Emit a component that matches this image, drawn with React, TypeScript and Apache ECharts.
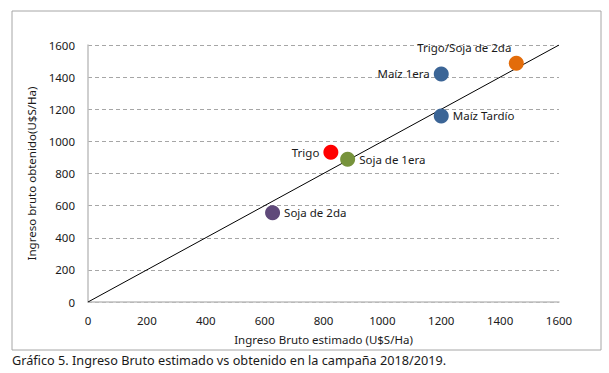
import React, { useEffect, useRef } from "react";
import * as echarts from "echarts";

const names = ["Trigo/Soja de 2da", "Maíz 1era", "Maíz Tardío", "Trigo", "Soja de 1era", "Soja de 2da"];
const estimated = [1455, 1200, 1200, 825, 882, 627];
const obtained = [1486, 1420, 1158, 932, 888, 556];
const pointColors = ["#E36C0A", "#3B6596", "#3B6596", "#FF0000", "#77933C", "#5F497A"];
const labelPositions = ["top", "left", "right", "left", "right", "right"];
const identityLine = [[0, 0], [1600, 1600]];

const FONT = "'Noto Sans', 'Open Sans', sans-serif";

export default function App() {
  const ref = useRef<HTMLDivElement>(null);
  useEffect(() => {
    document.body.style.margin = "0";
    const chart = echarts.init(ref.current!, null, { renderer: "svg" });
    const data = names.map((n, i) => ({
      name: n,
      value: [estimated[i], obtained[i]],
      itemStyle: { color: pointColors[i], opacity: 1 },
      label: {
        show: true,
        position: labelPositions[i] as any,
        formatter: n,
        color: "#1a1a1a",
        fontSize: 11.5,
        fontFamily: FONT,
        distance: 4,
        ...(i === 0 ? { offset: [-52, 2] } : {}),
      },
    }));
    chart.setOption({
      animation: false,
      backgroundColor: "#ffffff",
      textStyle: { fontFamily: FONT },
      graphic: [
        {
          type: "rect",
          shape: { x: 12, y: 11, width: 589, height: 339 },
          style: { fill: "none", stroke: "#A6A6A6", lineWidth: 1 },
          silent: true,
        },
        {
          type: "text",
          left: 12,
          top: 353,
          style: {
            text: "Gráfico 5. Ingreso Bruto estimado vs obtenido en la campaña 2018/2019.",
            fill: "#1a1a1a",
            fontSize: 12.7,
            fontFamily: FONT,
          },
        },
      ],
      grid: { left: 88, right: 50, top: 45, bottom: 71, containLabel: false },
      xAxis: {
        type: "value",
        min: 0,
        max: 1600,
        interval: 200,
        name: "Ingreso Bruto estimado (U$S/Ha)",
        nameLocation: "middle",
        nameGap: 31,
        nameTextStyle: { color: "#1a1a1a", fontSize: 11.5, fontFamily: FONT },
        axisLine: { show: true, lineStyle: { color: "#BFBFBF", width: 1.5 } },
        axisTick: { show: false },
        axisLabel: { color: "#1a1a1a", fontSize: 11.5, margin: 12, fontFamily: FONT, formatter: (v: number) => String(v) },
        splitLine: { show: false },
      },
      yAxis: {
        type: "value",
        min: 0,
        max: 1600,
        interval: 200,
        name: "Ingreso bruto obtenido(U$S/Ha)",
        nameLocation: "middle",
        nameGap: 45,
        nameTextStyle: { color: "#1a1a1a", fontSize: 11.5, fontFamily: FONT },
        axisLine: { show: true, lineStyle: { color: "#BFBFBF", width: 1.5 } },
        axisTick: { show: false },
        axisLabel: { color: "#1a1a1a", fontSize: 11.5, margin: 13, fontFamily: FONT, formatter: (v: number) => String(v) },
        splitLine: { show: true, lineStyle: { color: "#A6A6A6", type: [4, 3], width: 1 } },
      },
      series: [
        {
          type: "line",
          data: identityLine,
          showSymbol: false,
          symbol: "none",
          lineStyle: { color: "#000000", width: 1 },
          silent: true,
          z: 1,
        },
        {
          type: "scatter",
          symbolSize: 15,
          data,
          z: 2,
        },
      ],
    });
    return () => chart.dispose();
  }, []);
  return <div ref={ref} style={{ width: 609, height: 373 }} />;
}
